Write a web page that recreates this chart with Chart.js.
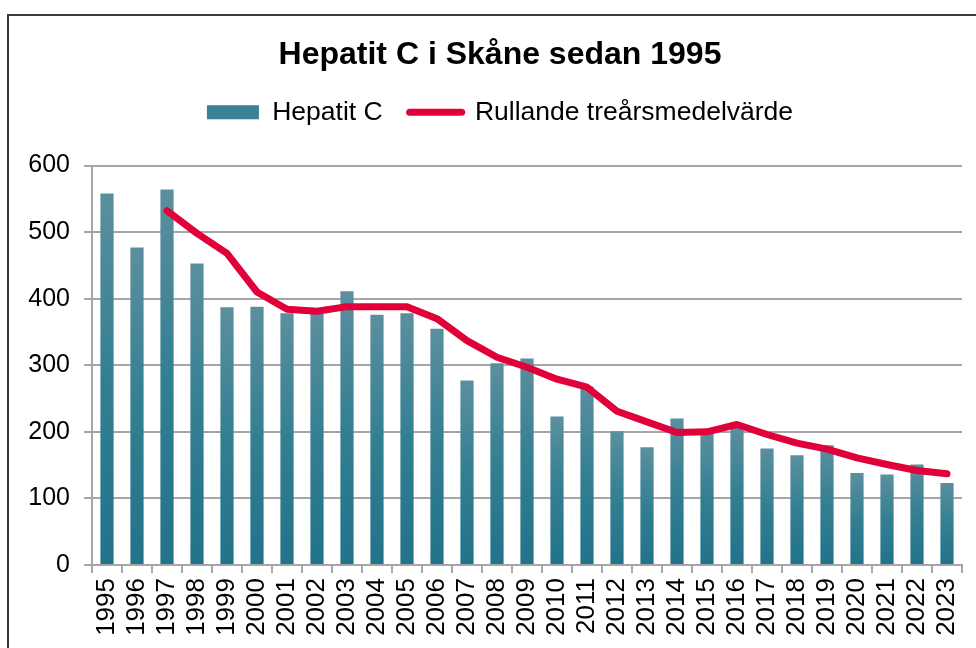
<!DOCTYPE html>
<html>
<head>
<meta charset="utf-8">
<script src="https://cdn.jsdelivr.net/npm/chart.js@4"></script>
<style>
  html, body { margin: 0; padding: 0; background: #fff; overflow: hidden; }
  #wrap { position: absolute; left: 0; top: 0; width: 1000px; height: 660px; }
  #frame { position: absolute; left: 7px; top: 14px; width: 1000px; height: 700px;
           border-left: 2px solid #3a3a3a; border-top: 2px solid #3a3a3a; pointer-events: none; }
</style>
</head>
<body>
<div id="wrap"><canvas id="chart"></canvas></div>
<div id="frame"></div>
<script>
const years = ['1995','1996','1997','1998','1999','2000','2001','2002','2003','2004',
  '2005','2006','2007','2008','2009','2010','2011','2012','2013','2014',
  '2015','2016','2017','2018','2019','2020','2021','2022','2023'];

const hepatitC = [558, 477, 564, 453, 387, 388, 378, 377, 411, 376,
  378, 355, 277, 303, 310, 223, 268, 201, 177, 220,
  202, 210, 175, 165, 180, 138, 136, 151, 123];

const rullande = [null, null, 532, 498, 468, 410, 384, 381, 388, 388,
  388, 370, 337, 312, 297, 279, 267, 231, 215, 199,
  200, 211, 196, 183, 174, 161, 151, 142, 137];

const yTicks = [0, 100, 200, 300, 400, 500, 600];

const FONT = "'Liberation Sans', Arial, sans-serif";
const GRID = '#a6a6a6';
const RED = '#e2003a';

function barFill(ctx) {
  const chart = ctx.chart;
  const y = chart.scales.y;
  if (!chart.chartArea || !y || ctx.raw == null) return '#337f92';
  const top = y.getPixelForValue(ctx.raw);
  const base = y.getPixelForValue(0);
  const g = chart.ctx.createLinearGradient(0, top, 0, base);
  g.addColorStop(0, '#5b8f9e');
  g.addColorStop(0.5, '#337f92');
  g.addColorStop(1, '#22728a');
  return g;
}

new Chart(document.getElementById('chart'), {
  type: 'bar',
  data: {
    labels: years,
    datasets: [{
      type: 'line',
      label: 'Rullande treårsmedelvärde',
      data: rullande,
      borderColor: RED,
      borderWidth: 7,
      borderCapStyle: 'round',
      borderJoinStyle: 'round',
      pointRadius: 0,
      tension: 0,
      fill: false,
      order: 0
    }, {
      label: 'Hepatit C',
      data: hepatitC,
      backgroundColor: barFill,
      barPercentage: 0.44,
      categoryPercentage: 1.0,
      order: 1
    }]
  },
  options: {
    responsive: true,
    maintainAspectRatio: false,
    animation: false,
    layout: { padding: 0 },
    plugins: {
      tooltip: { enabled: false },
      title: {
        display: true,
        text: 'Hepatit C i Skåne sedan 1995',
        color: '#000',
        font: { family: FONT, size: 32, weight: 'bold', lineHeight: 1.0 },
        padding: { top: 39, bottom: 1 }
      },
      subtitle: {
        // empty spacer between legend and plot
        display: true,
        text: '',
        weight: 500,
        font: { size: 10 },
        padding: { top: 18, bottom: 0 }
      },
      legend: {
        display: true,
        position: 'top',
        labels: {
          color: '#000',
          font: { family: FONT, size: 26.5 },
          usePointStyle: true,
          pointStyleWidth: 52,
          boxHeight: 14,
          padding: 27,
          generateLabels(chart) {
            const items = Chart.defaults.plugins.legend.labels.generateLabels(chart);
            items.forEach(it => {
              if (it.datasetIndex === 1) {
                it.pointStyle = 'rect';
                it.fillStyle = '#3a8194';
                it.lineWidth = 0;
              } else {
                it.pointStyle = 'line';
                it.strokeStyle = RED;
                it.fillStyle = RED;
                it.lineWidth = 7;
                it.lineCap = 'round';
              }
            });
            return items.sort((a, b) => b.datasetIndex - a.datasetIndex);
          }
        }
      }
    },
    scales: {
      x: {
        offset: true,
        grid: { offset: true, drawOnChartArea: false, drawTicks: true, tickLength: 8, color: GRID, lineWidth: 2 },
        border: { color: GRID, width: 2 },
        ticks: {
          autoSkip: false, minRotation: 90, maxRotation: 90, padding: 5,
          color: '#000', font: { family: FONT, size: 26 }
        },
        afterFit(s) { s.height = 95; }
      },
      y: {
        min: 0,
        max: 600,
        afterBuildTicks(s) { s.ticks = yTicks.map(v => ({ value: v })); },
        grid: { color: GRID, lineWidth: 2, tickLength: 8 },
        border: { color: GRID, width: 2 },
        ticks: { padding: 14, color: '#000', font: { family: FONT, size: 25 } },
        afterFit(s) { s.width = 92; }
      },
      // right-hand spacer so the plot ends where the reference does
      yRight: {
        position: 'right',
        min: 0,
        max: 600,
        grid: { drawOnChartArea: false, drawTicks: false },
        border: { display: false },
        ticks: { display: false },
        afterFit(s) { s.width = 38; }
      }
    }
  }
});
</script>
</body>
</html>
